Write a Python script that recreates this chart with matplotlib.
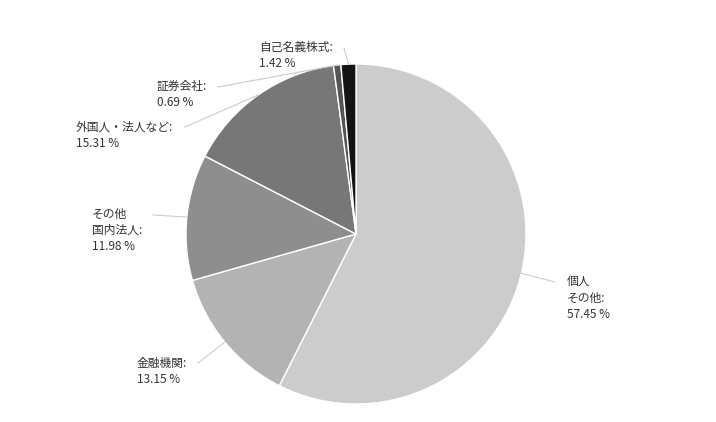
import matplotlib.pyplot as plt
import numpy as np

plt.rcParams['font.family'] = ['Noto Sans CJK JP', 'DejaVu Sans']

# 株主構成 (%)
labels = ['個人\nその他', '金融機関', 'その他\n国内法人', '外国人・法人など', '証券会社', '自己名義株式']
values = [57.45, 13.15, 11.98, 15.31, 0.69, 1.42]
colors = ['#cccccc', '#b3b3b3', '#8e8e8e', '#777777', '#555555', '#141414']

# label anchors in pixels from top-left: line end, text left/top
line_ends = [(555, 282), (198, 363), (153, 215), (185, 127), (218, 87), (344, 48)]
text_pos = [(567, 276), (137, 357), (92, 208), (76, 121), (157, 80), (259, 41)]

W, H = 716, 422
fig = plt.figure(figsize=(7.16, 4.22), dpi=100)
ax = fig.add_axes([0, 0, 1, 1])

cx, cy, r = 356, H - 234, 170
wedges, _ = ax.pie(values, colors=colors, startangle=90, counterclock=False,
                   center=(cx, cy), radius=r, frame=True,
                   wedgeprops=dict(edgecolor='white', linewidth=1))
ax.set_xlim(0, W)
ax.set_ylim(0, H)
ax.axis('off')

for w, lab, v, (lx, ly), (tx, ty) in zip(wedges, labels, values, line_ends, text_pos):
    mid = np.deg2rad((w.theta1 + w.theta2) / 2)
    px = cx + r * np.cos(mid)
    py = cy + r * np.sin(mid)
    ax.plot([px, lx], [py, H - ly], color='#cccccc', lw=0.8)
    ax.text(tx, H - ty, f'{lab}:\n{v:.2f} %', ha='left', va='top', fontsize=8.5,
            color='#333333', linespacing=1.3)

fig.savefig('out.png', dpi=100)
